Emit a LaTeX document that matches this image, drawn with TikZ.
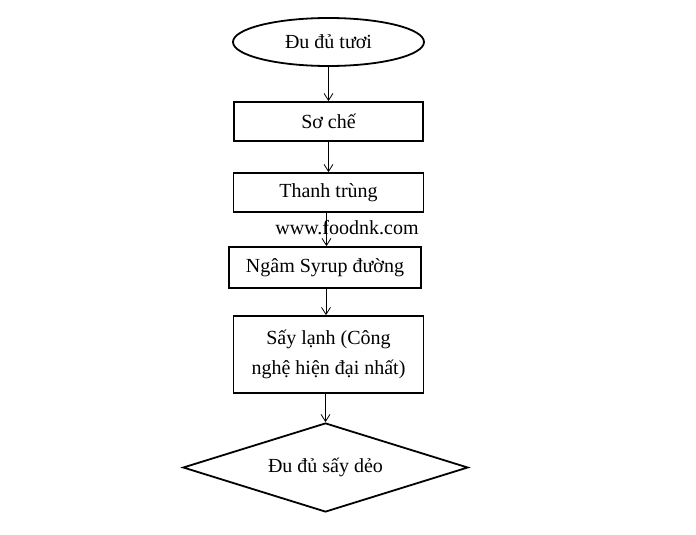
\documentclass[tikz,border=0pt]{standalone}
\usepackage{fontspec}
\setmainfont{Liberation Serif}
\usetikzlibrary{shapes.geometric,arrows.meta}
\begin{document}
\begin{tikzpicture}[x=1pt,y=-1pt,
  every node/.style={font=\fontsize{20}{30}\selectfont},
  stepbox/.style={draw,line width=1.8pt,inner sep=0pt,align=center},
  flow/.style={draw,line width=0.8pt,-{Straight Barb[length=7pt,width=9pt]}}]
\useasboundingbox[fill=white] (0,0) rectangle (696,535);
\node[ellipse,draw,line width=1.8pt,minimum width=191pt,minimum height=48pt,inner sep=0pt] (e) at (328.5,42) {Đu đủ tươi};
\node[stepbox,minimum width=189pt,minimum height=39pt] (b1) at (328.5,121.5) {Sơ chế};
\node[stepbox,minimum width=190pt,minimum height=39pt] (b2) at (328.5,192.5) {Thanh trùng};
\node[stepbox,minimum width=192pt,minimum height=41pt] (b3) at (325,267.5) {Ngâm Syrup đường};
\node[stepbox,minimum width=190pt,minimum height=77pt] (b4) at (328.5,354.5) {Sấy lạnh (Công\\nghệ hiện đại nhất)};
\node[diamond,draw,line width=1.8pt,aspect=3.2,minimum width=285pt,minimum height=89pt,inner sep=0pt] (d) at (325.5,467.5) {Đu đủ sấy dẻo};
\node (w) at (347,228) {www.foodnk.com};
\draw[flow] (e.south) -- (e.south |- b1.north);
\draw[flow] (b1.south) -- (b1.south |- b2.north);
\draw[flow] ([xshift=-2pt]b2.south) -- ([xshift=-2pt]b2.south |- b3.north);
\draw[flow] ([xshift=1pt]b3.south) -- ([xshift=1pt]b3.south |- b4.north);
\draw[flow] ([xshift=-3pt]b4.south) -- ([xshift=-3pt]b4.south |- d.north);
\end{tikzpicture}
\end{document}
